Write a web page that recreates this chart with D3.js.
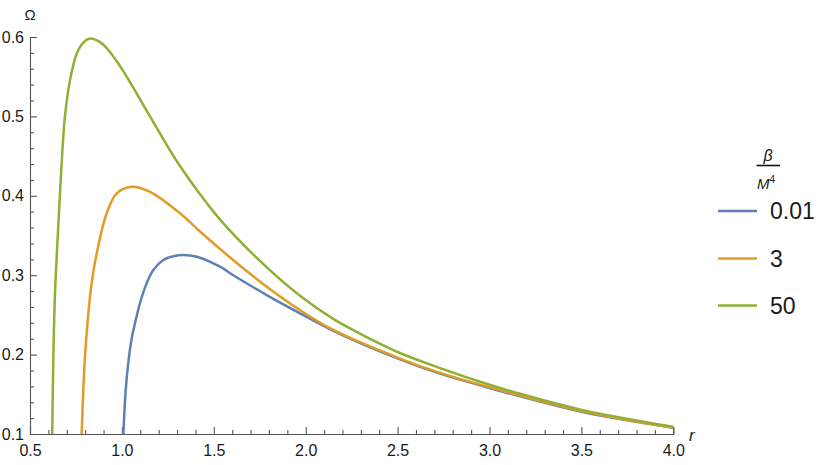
<!DOCTYPE html>
<html><head><meta charset="utf-8">
<script src="https://cdn.jsdelivr.net/npm/d3@7"></script>
<style>html,body{margin:0;padding:0;background:#fff;}svg{display:block;font-family:"Liberation Sans",Arial,sans-serif;}</style>
</head><body>
<svg id="chart" width="830" height="465"></svg>
<script>
// ---- data ----
const seriesLabels = ["0.01", "3", "50"];
const seriesColors = ["#5E81B5", "#E19C24", "#8FB032"];

const rBlue = [1.008, 1.0207, 1.035, 1.053, 1.080, 1.0985, 1.135, 1.171, 1.2253, 1.280, 1.334, 1.407, 1.534, 1.606, 1.788, 1.969, 2.150, 2.513, 2.731, 3.000, 3.500, 4.000];
const omegaBlue = [0.100, 0.1554, 0.190, 0.220, 0.248, 0.265, 0.290, 0.3065, 0.3191, 0.3238, 0.3254, 0.3233, 0.3107, 0.300, 0.275, 0.252, 0.230, 0.194, 0.176, 0.158, 0.128, 0.108];

const rOrange = [0.781, 0.790, 0.799, 0.826, 0.843, 0.863, 0.917, 0.972, 1.053, 1.153, 1.316, 1.425, 1.534, 1.606, 1.788, 1.969, 2.150, 2.513, 2.731, 3.000, 3.500, 4.000];
const omegaOrange = [0.100, 0.155, 0.197, 0.272, 0.302, 0.3276, 0.378, 0.403, 0.4115, 0.405, 0.378, 0.355, 0.333, 0.319, 0.2855, 0.256, 0.231, 0.195, 0.177, 0.159, 0.129, 0.108];

const rGreen = [0.621, 0.627, 0.636, 0.655, 0.670, 0.690, 0.718, 0.754, 0.790, 0.826, 0.870, 0.917, 0.970, 1.026, 1.153, 1.289, 1.425, 1.534, 1.751, 1.969, 2.150, 2.332, 2.513, 2.731, 3.000, 3.130, 3.490, 4.000];
const omegaGreen = [0.100, 0.197, 0.277, 0.367, 0.432, 0.4996, 0.546, 0.579, 0.593, 0.598, 0.595, 0.586, 0.570, 0.550, 0.500, 0.447, 0.402, 0.370, 0.318, 0.274, 0.245, 0.222, 0.202, 0.183, 0.162, 0.153, 0.131, 0.109];

const xMajorTicks = [0.5, 1.0, 1.5, 2.0, 2.5, 3.0, 3.5, 4.0];
const yMajorTicks = [0.1, 0.2, 0.3, 0.4, 0.5, 0.6];
const xDomain = [0.5, 4.0];
const yDomain = [0.1, 0.6];

// ---- drawing ----
const svg = d3.select("#chart");
const x = d3.scaleLinear().domain(xDomain).range([30, 673.3]);
const y = d3.scaleLinear().domain(yDomain).range([434, 37]);

const xMinor = d3.range(0, 36).map(i => +(0.5 + i * 0.1).toFixed(2)).filter(v => !xMajorTicks.some(m => Math.abs(m - v) < 1e-6));
const yMinor = d3.range(0, 26).map(i => +(0.1 + i * 0.02).toFixed(3)).filter(v => !yMajorTicks.some(m => Math.abs(m - v) < 1e-6));

const axisColor = "#555";
const labelColor = "#1a1a1a";

// x axis
const gx = svg.append("g").attr("transform", "translate(0,434)");
gx.call(d3.axisBottom(x).tickValues(xMajorTicks).tickSize(-7).tickPadding(11).tickFormat(d3.format(".1f")));
const gxm = svg.append("g").attr("transform", "translate(0,434)");
gxm.call(d3.axisBottom(x).tickValues(xMinor).tickSize(-4).tickFormat(""));
gxm.select(".domain").remove();

// y axis
const gy = svg.append("g").attr("transform", "translate(30,0)");
gy.call(d3.axisLeft(y).tickValues(yMajorTicks).tickSize(-7).tickPadding(6).tickFormat(d3.format(".1f")));
const gym = svg.append("g").attr("transform", "translate(30,0)");
gym.call(d3.axisLeft(y).tickValues(yMinor).tickSize(-4).tickFormat(""));
gym.select(".domain").remove();

svg.selectAll(".domain").attr("stroke", axisColor).attr("stroke-width", 1.1);
svg.selectAll(".tick line").attr("stroke", axisColor).attr("stroke-width", 1.1);
svg.selectAll(".tick text").attr("fill", labelColor).style("font-size", "16px").style("font-family", "'Liberation Sans', Arial, sans-serif");

// axis labels
svg.append("text").attr("x", 30).attr("y", 20).attr("text-anchor", "middle")
  .style("font-size", "15px").attr("fill", labelColor).text("Ω");
svg.append("text").attr("x", 689).attr("y", 441)
  .style("font-size", "17px").style("font-style", "italic").attr("fill", labelColor).text("r");

// curves
const series = [
  {r: rBlue, w: omegaBlue},
  {r: rOrange, w: omegaOrange},
  {r: rGreen, w: omegaGreen}
];
const line = d3.line().x(d => x(d[0])).y(d => y(d[1])).curve(d3.curveCatmullRom.alpha(0.5));
svg.append("defs").append("clipPath").attr("id", "clip")
  .append("rect").attr("x", 30).attr("y", 30).attr("width", 650).attr("height", 404);
series.forEach((s, i) => {
  svg.append("path")
    .datum(d3.zip(s.r, s.w))
    .attr("d", line)
    .attr("fill", "none")
    .attr("stroke", seriesColors[i])
    .attr("stroke-width", 2.5)
    .attr("stroke-linejoin", "round")
    .attr("clip-path", "url(#clip)");
});

// legend
const lg = svg.append("g");
lg.append("text").attr("x", 768).attr("y", 161).attr("text-anchor", "middle")
  .style("font-size", "16px").style("font-style", "italic").attr("fill", labelColor).text("β");
lg.append("line").attr("x1", 756.5).attr("x2", 780).attr("y1", 165.5).attr("y2", 165.5)
  .attr("stroke", "#111").attr("stroke-width", 1.6);
const mt = lg.append("text").attr("x", 766).attr("y", 189).attr("text-anchor", "middle")
  .style("font-size", "15px").attr("fill", labelColor);
mt.append("tspan").style("font-style", "italic").text("M");
mt.append("tspan").attr("dy", -6).style("font-size", "10px").text("4");

const legendY = [211, 258.5, 305.5];
seriesLabels.forEach((lab, i) => {
  lg.append("line").attr("x1", 718).attr("x2", 757).attr("y1", legendY[i]).attr("y2", legendY[i])
    .attr("stroke", seriesColors[i]).attr("stroke-width", 2.3);
  lg.append("text").attr("x", 770).attr("y", legendY[i]).attr("dy", "0.36em")
    .style("font-size", "23px").attr("fill", labelColor).text(lab);
});
</script>
</body></html>
